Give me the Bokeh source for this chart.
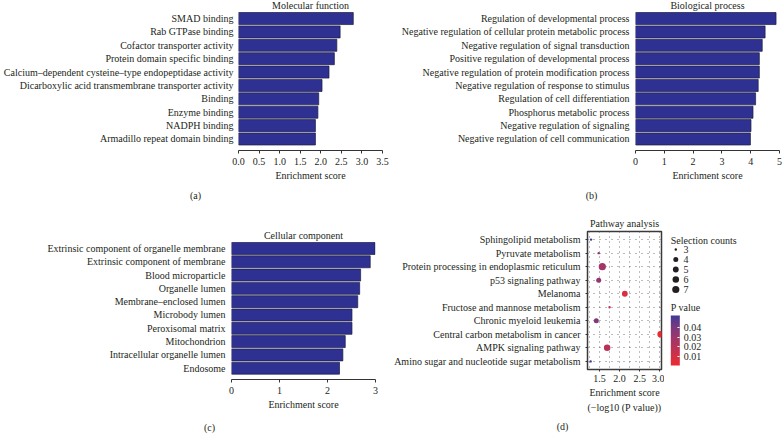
import numpy as np
from bokeh.plotting import figure
from bokeh.models import (Range1d, FixedTicker, Title, ColorBar, LinearColorMapper,
                          NumeralTickFormatter, ColumnDataSource, AllLabels)
from bokeh.layouts import row, column
from bokeh.embed import file_html
from bokeh.resources import INLINE
from bokeh.core.properties import value

# ---------------- data ----------------
mf_terms = ["SMAD binding", "Rab GTPase binding", "Cofactor transporter activity",
            "Protein domain specific binding",
            "Calcium\u2013dependent cysteine\u2013type endopeptidase activity",
            "Dicarboxylic acid transmembrane transporter activity",
            "Binding", "Enzyme binding", "NADPH binding", "Armadillo repeat domain binding"]
mf_scores = [2.79, 2.47, 2.39, 2.33, 2.20, 2.03, 1.95, 1.93, 1.87, 1.87]
mf_ticks = [0.0, 0.5, 1.0, 1.5, 2.0, 2.5, 3.0, 3.5]

bp_terms = ["Regulation of developmental process",
            "Negative regulation of cellular protein metabolic process",
            "Negative regulation of signal transduction",
            "Positive regulation of developmental process",
            "Negative regulation of protein modification process",
            "Negative regulation of response to stimulus",
            "Regulation of cell differentiation",
            "Phosphorus metabolic process",
            "Negative regulation of signaling",
            "Negative regulation of cell communication"]
bp_scores = [4.88, 4.50, 4.40, 4.30, 4.30, 4.26, 4.17, 4.08, 4.01, 3.99]
bp_ticks = [0, 1, 2, 3, 4, 5]

cc_terms = ["Extrinsic component of organelle membrane", "Extrinsic component of membrane",
            "Blood microparticle", "Organelle lumen", "Membrane\u2013enclosed lumen",
            "Microbody lumen", "Peroxisomal matrix", "Mitochondrion",
            "Intracellular organelle lumen", "Endosome"]
cc_scores = [2.99, 2.89, 2.69, 2.67, 2.63, 2.51, 2.51, 2.37, 2.32, 2.25]
cc_ticks = [0, 1, 2, 3]

pw_terms = ["Sphingolipid metabolism", "Pyruvate metabolism",
            "Protein processing in endoplasmic reticulum", "p53 signaling pathway",
            "Melanoma", "Fructose and mannose metabolism", "Chronic myeloid leukemia",
            "Central carbon metabolism in cancer", "AMPK signaling pathway",
            "Amino sugar and nucleotide sugar metabolism"]
pw_scores = [1.29, 1.48, 1.57, 1.48, 2.13, 1.75, 1.42, 3.02, 1.69, 1.28]
pw_counts = [3, 3, 7, 4, 5, 3, 4, 6, 6, 3]
pw_pvalues = [0.051, 0.033, 0.027, 0.033, 0.0074, 0.018, 0.038, 0.00095, 0.020, 0.052]
pw_ticks = [1.5, 2.0, 2.5, 3.0]
count_levels = [3, 4, 5, 6, 7]
p_ticks = [0.01, 0.02, 0.03, 0.04]

# ---------------- style ----------------
SERIF = "Liberation Serif"
FS = "10px"
TXT = "#231f20"
BAR_FILL = "#2e3192"
BAR_LINE = "#1c1c40"
AXIS = "#333333"
SIZE_PX = {3: 2.4, 4: 5.0, 5: 5.8, 6: 6.5, 7: 7.2}
LOW_COL, HIGH_COL = "#ec2a30", "#3b3996"

# Lab-space gradient (as ggplot's scale_colour_gradient)
_M = np.array([[0.4124564, 0.3575761, 0.1804375],
               [0.2126729, 0.7151522, 0.0721750],
               [0.0193339, 0.1191920, 0.9503041]])
_MI = np.linalg.inv(_M)
_W = np.array([0.95047, 1.0, 1.08883])


def _lab(hexc):
    c = np.array([int(hexc[i:i + 2], 16) for i in (1, 3, 5)]) / 255.0
    c = np.where(c <= 0.04045, c / 12.92, ((c + 0.055) / 1.055) ** 2.4)
    xyz = _M @ c / _W
    d = 6 / 29
    f = np.where(xyz > d ** 3, np.cbrt(xyz), xyz / (3 * d * d) + 4 / 29)
    return np.array([116 * f[1] - 16, 500 * (f[0] - f[1]), 200 * (f[1] - f[2])])


def _hex(lab):
    L, a, b = lab
    fy = (L + 16) / 116
    f = np.array([fy + a / 500, fy, fy - b / 200])
    d = 6 / 29
    xyz = np.where(f > d, f ** 3, 3 * d * d * (f - 4 / 29)) * _W
    c = np.clip(_MI @ xyz, 0, None)
    c = np.where(c <= 0.0031308, 12.92 * c, 1.055 * c ** (1 / 2.4) - 0.055)
    c = np.clip(np.round(c * 255), 0, 255).astype(int)
    return "#%02x%02x%02x" % tuple(c)


_l0, _l1 = _lab(LOW_COL), _lab(HIGH_COL)
palette = [_hex(_l0 + t * (_l1 - _l0)) for t in np.linspace(0, 1, 256)]
mapper = LinearColorMapper(palette=palette, low=min(pw_pvalues), high=max(pw_pvalues))


def mk_title(text, standoff=0, offset=0, align="center", valign="bottom"):
    return Title(text=text, align=align, offset=offset, standoff=standoff,
                 vertical_align=valign,
                 text_font=SERIF, text_font_size=FS, text_font_style="normal",
                 text_color=TXT)


def style_axis_text(ax):
    ax.major_label_text_font = SERIF
    ax.major_label_text_font_size = FS
    ax.major_label_text_color = TXT
    ax.axis_label_text_font = SERIF
    ax.axis_label_text_font_size = FS
    ax.axis_label_text_font_style = "normal"
    ax.axis_label_text_color = TXT


def bar_panel(terms, scores, ticks, fmt, xmax, w, h, mb, ymax, title, tag, tag_off,
              tag_standoff, ystand, title_standoff, title_valign):
    n = len(terms)
    pos = list(range(1, n + 1))
    p = figure(width=w, height=h, x_range=Range1d(0, xmax), y_range=Range1d(ymax, 0.4),
               min_border_left=mb[0], min_border_right=mb[1], min_border_top=mb[2],
               min_border_bottom=mb[3], toolbar_location=None, output_backend="svg")
    p.title = mk_title(title, standoff=title_standoff, valign=title_valign)
    p.hbar(y=pos, left=0, right=scores, height=0.9, fill_color=BAR_FILL,
           line_color=BAR_LINE, line_width=0.7)
    p.grid.visible = False
    p.outline_line_color = None
    ya = p.yaxis[0]
    ya.ticker = FixedTicker(ticks=pos)
    ya.major_label_overrides = {i: t for i, t in zip(pos, terms)}
    ya.axis_line_color = None
    ya.major_tick_line_color = None
    ya.minor_tick_line_color = None
    ya.major_tick_out = 0
    ya.major_label_standoff = ystand
    style_axis_text(ya)
    xa = p.xaxis[0]
    xa.ticker = FixedTicker(ticks=ticks)
    xa.formatter = NumeralTickFormatter(format=fmt)
    xa.axis_line_color = AXIS
    xa.major_tick_line_color = AXIS
    xa.major_tick_out = 3
    xa.major_tick_in = 0
    xa.minor_tick_line_color = None
    xa.major_label_standoff = 4
    xa.axis_label = "Enrichment score"
    xa.axis_label_standoff = 2
    style_axis_text(xa)
    p.add_layout(mk_title(tag, standoff=tag_standoff, offset=tag_off, align="left"), "below")
    return p


# ---- (a) Molecular function ----
pa = bar_panel(mf_terms, mf_scores, mf_ticks, "0.0", 3.5, 390, 212, (237, 8, 10, 62), 10.86,
               "Molecular function", "(a)", -48.5, 8, 5, -4, "top")
# ---- (b) Biological process ----
pb = bar_panel(bp_terms, bp_scores, bp_ticks, "0", 5, 392, 212, (245, 3, 10, 62), 10.86,
               "Biological process", "(b)", -49.8, 8, 6, -4, "top")
# ---- (c) Cellular component ----
pc = bar_panel(cc_terms, cc_scores, cc_ticks, "0", 3, 390, 236, (231, 15, 28, 69), 10.85,
               "Cellular component", "(c)", -27.5, 15, 6, 0, "bottom")

# ---- (d) Pathway analysis ----
pos = list(range(1, len(pw_terms) + 1))
pdp = figure(width=274, height=236, x_range=Range1d(1.2015, 3.042), y_range=Range1d(10.6, 0.4),
             min_border_left=197, min_border_right=3, min_border_top=19, min_border_bottom=79,
             toolbar_location=None, output_backend="svg")
pdp.title = mk_title("Pathway analysis", standoff=5)
src = ColumnDataSource(dict(x=pw_scores, y=pos, p=pw_pvalues,
                            s=[SIZE_PX[c] for c in pw_counts]))
pdp.scatter(x="x", y="y", size="s", source=src,
            fill_color={"field": "p", "transform": mapper}, line_color=None)
pdp.outline_line_color = "#3a3a3a"
pdp.outline_line_width = 1.5
pdp.xgrid.ticker = FixedTicker(ticks=pw_ticks, minor_ticks=[1.25, 1.75, 2.25, 2.75])
pdp.xgrid.grid_line_color = "#555555"
pdp.xgrid.grid_line_dash = "1 4"
pdp.xgrid.grid_line_width = 0.8
pdp.xgrid.minor_grid_line_color = "#555555"
pdp.xgrid.minor_grid_line_dash = "1 4"
pdp.xgrid.minor_grid_line_width = 0.8
pdp.ygrid.ticker = FixedTicker(ticks=pos)
pdp.ygrid.grid_line_color = "#555555"
pdp.ygrid.grid_line_dash = "1 5"
pdp.ygrid.grid_line_width = 0.8
ya = pdp.yaxis[0]
ya.ticker = FixedTicker(ticks=pos)
ya.major_label_overrides = {i: t for i, t in zip(pos, pw_terms)}
ya.axis_line_color = None
ya.major_tick_line_color = AXIS
ya.major_tick_out = 2
ya.major_tick_in = 0
ya.minor_tick_line_color = None
ya.major_label_standoff = 5
style_axis_text(ya)
xa = pdp.xaxis[0]
xa.ticker = FixedTicker(ticks=pw_ticks)
xa.formatter = NumeralTickFormatter(format="0.0")
xa.axis_line_color = None
xa.major_tick_line_color = AXIS
xa.major_tick_out = 2
xa.major_tick_in = 0
xa.minor_tick_line_color = None
xa.major_label_standoff = 3
xa.axis_label = "Enrichment score"
xa.axis_label_standoff = 2
style_axis_text(xa)
pdp.add_layout(mk_title("(\u2212log10 (P value))", standoff=-2), "below")
pdp.add_layout(mk_title("(d)", standoff=14, offset=-30.8, align="left"), "below")

# ---- legends for (d), drawn in window pixel coordinates ----
pe = figure(width=118, height=236, x_range=Range1d(664, 782), y_range=Range1d(448, 212),
            min_border=0, x_axis_type=None, y_axis_type=None, title=None,
            toolbar_location=None, output_backend="svg")
pe.grid.visible = False
pe.outline_line_color = None
leg_y = [249 + 10 * i for i in range(len(count_levels))]
pe.text(x=[670.3], y=[240], text=["Selection counts"], text_font=value(SERIF),
        text_font_size=FS, text_baseline="middle", text_color=TXT)
pe.scatter(x=[675.3] * len(count_levels), y=leg_y, size=[SIZE_PX[c] for c in count_levels],
           fill_color=TXT, line_color=None)
pe.text(x=[683] * len(count_levels), y=leg_y, text=[str(c) for c in count_levels],
        text_font=value(SERIF), text_font_size=FS, text_baseline="middle", text_color=TXT)
pe.text(x=[670.3], y=[306.7], text=["P value"], text_font=value(SERIF),
        text_font_size=FS, text_baseline="middle", text_color=TXT)
cb = ColorBar(color_mapper=mapper, ticker=FixedTicker(ticks=p_ticks), width=9, height=50,
              location=(6.3, 83), padding=0, margin=0, orientation="vertical",
              major_label_policy=AllLabels(),
              major_tick_line_color="white", major_tick_in=2, major_tick_out=0,
              minor_tick_line_color=None, bar_line_color=None, border_line_color=None,
              background_fill_color=None, label_standoff=4,
              major_label_text_font=SERIF, major_label_text_font_size=FS,
              major_label_text_color=TXT)
pe.add_layout(cb, "center")

layout = column(row(pa, pb), row(column(pc), column(pdp), column(pe)))
open("out.html", "w").write(file_html(layout, INLINE))
